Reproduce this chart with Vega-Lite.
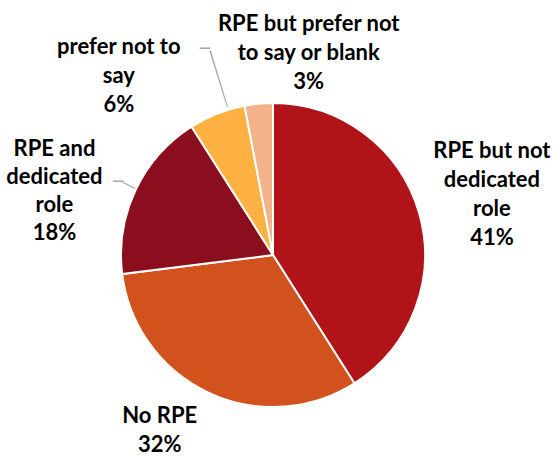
{
  "$schema": "https://vega.github.io/schema/vega-lite/v6.json",
  "width": 500,
  "height": 400,
  "autosize": {"type": "none"},
  "padding": {"left": 23, "top": 55, "right": 35, "bottom": 2},
  "background": "white",
  "view": {"stroke": null},
  "data": {
    "values": [
      {"ord": 1, "cat": "RPE but not dedicated role", "value": 41, "label": "RPE but not\ndedicated\nrole\n41%"},
      {"ord": 2, "cat": "No RPE", "value": 32, "label": "No RPE\n32%"},
      {"ord": 3, "cat": "RPE and dedicated role", "value": 18, "label": "RPE and\ndedicated\nrole\n18%"},
      {"ord": 4, "cat": "prefer not to say", "value": 6, "label": "prefer not to\nsay\n6%"},
      {"ord": 5, "cat": "RPE but prefer not to say or blank", "value": 3, "label": "RPE but prefer not\nto say or blank\n3%"}
    ]
  },
  "encoding": {
    "theta": {"field": "value", "type": "quantitative", "stack": true},
    "order": {"field": "ord", "type": "quantitative"}
  },
  "layer": [
    {
      "mark": {"type": "arc", "outerRadius": 152, "stroke": "white", "strokeWidth": 2},
      "encoding": {
        "color": {
          "field": "cat", "type": "nominal", "legend": null,
          "scale": {
            "domain": ["RPE but not dedicated role", "No RPE", "RPE and dedicated role", "prefer not to say", "RPE but prefer not to say or blank"],
            "range": ["#B01419", "#D2521E", "#8B0E1E", "#FDB142", "#F3B28A"]
          }
        }
      }
    },
    {
      "transform": [
        {"stack": "value", "groupby": [], "sort": [{"field": "ord"}], "as": ["v0", "v1"]},
        {"filter": "datum.cat === 'prefer not to say'"}
      ],
      "mark": {"type": "arc", "radius": 214, "radius2": 155, "thetaOffset": 0.2635, "theta2Offset": 0.2705, "fill": "#A6A6A6"},
      "encoding": {
        "theta": {"field": "v0", "type": "quantitative", "stack": null},
        "theta2": {"field": "v0"}
      }
    },
    {
      "transform": [
        {"stack": "value", "groupby": [], "sort": [{"field": "ord"}], "as": ["v0", "v1"]},
        {"filter": "datum.cat === 'RPE and dedicated role'"}
      ],
      "mark": {"type": "arc", "radius": 167, "radius2": 153, "thetaOffset": 0.5725, "theta2Offset": 0.5795, "fill": "#A6A6A6"},
      "encoding": {
        "theta": {"field": "v0", "type": "quantitative", "stack": null},
        "theta2": {"field": "v0"}
      }
    },
    {
      "mark": {"type": "text", "radius": 215, "dx": 11, "dy": -6.5, "font": "DejaVu Sans", "fontSize": 17, "fill": "#A6A6A6", "baseline": "middle", "align": "center"},
      "encoding": {
        "text": {"condition": {"test": "datum.cat === 'prefer not to say'", "value": "─"}, "value": ""}
      }
    },
    {
      "mark": {"type": "text", "radius": 170, "dx": -1, "dy": -1, "font": "DejaVu Sans", "fontSize": 17, "fill": "#A6A6A6", "baseline": "middle", "align": "center"},
      "encoding": {
        "text": {"condition": {"test": "datum.cat === 'RPE and dedicated role'", "value": "─"}, "value": ""}
      }
    },
    {
      "mark": {"type": "text", "radius": 228, "dx": 0, "dy": -40.5, "lineBreak": "\n", "lineHeight": 29, "font": "Lato", "fontSize": 22, "fontWeight": "bold", "fill": "black", "baseline": "middle", "align": "center"},
      "encoding": {
        "text": {"condition": {"test": "datum.cat === 'RPE but not dedicated role'", "field": "label"}, "value": ""}
      }
    },
    {
      "mark": {"type": "text", "radius": 205, "dx": -26, "dy": -24, "lineBreak": "\n", "lineHeight": 29, "font": "Lato", "fontSize": 22, "fontWeight": "bold", "fill": "black", "baseline": "middle", "align": "center"},
      "encoding": {
        "text": {"condition": {"test": "datum.cat === 'No RPE'", "field": "label"}, "value": ""}
      }
    },
    {
      "mark": {"type": "text", "radius": 215, "dx": -24, "dy": -14.5, "lineBreak": "\n", "lineHeight": 28, "font": "Lato", "fontSize": 22, "fontWeight": "bold", "fill": "black", "baseline": "middle", "align": "center"},
      "encoding": {
        "text": {"condition": {"test": "datum.cat === 'RPE and dedicated role'", "field": "label"}, "value": ""}
      }
    },
    {
      "mark": {"type": "text", "radius": 215, "dx": -75, "dy": -8, "lineBreak": "\n", "lineHeight": 29, "font": "Lato", "fontSize": 22, "fontWeight": "bold", "fill": "black", "baseline": "middle", "align": "center"},
      "encoding": {
        "text": {"condition": {"test": "datum.cat === 'prefer not to say'", "field": "label"}, "value": ""}
      }
    },
    {
      "mark": {"type": "text", "radius": 205, "dx": 55, "dy": -27, "lineBreak": "\n", "lineHeight": 29, "font": "Lato", "fontSize": 22, "fontWeight": "bold", "fill": "black", "baseline": "middle", "align": "center"},
      "encoding": {
        "text": {"condition": {"test": "datum.cat === 'RPE but prefer not to say or blank'", "field": "label"}, "value": ""}
      }
    }
  ]
}
